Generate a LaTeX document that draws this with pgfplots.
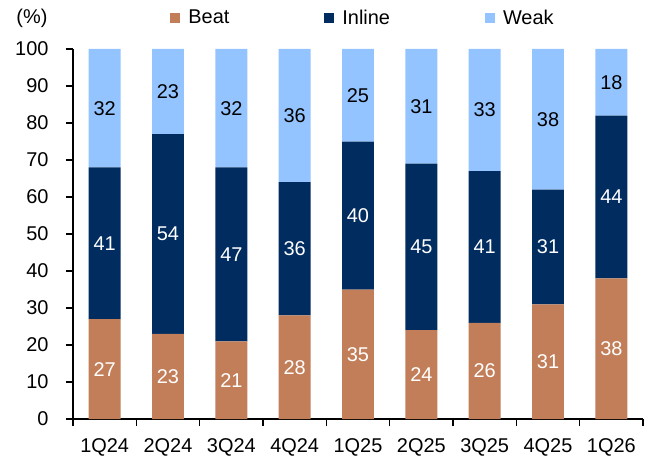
\documentclass[border=0pt]{standalone}
\usepackage{fontspec}
\setmainfont{Liberation Sans}
\usepackage{pgfplots}
\pgfplotsset{compat=1.18}
\usepackage{pgfplotstable}
\definecolor{beat}{RGB}{193,126,89}
\definecolor{inline}{RGB}{0,44,95}
\definecolor{weak}{RGB}{148,196,255}
\newcommand\F{\fontsize{20}{24}\selectfont}
\pgfplotstableread{
x beat inline weak
0 27 41 32
1 23 54 23
2 21 47 32
3 28 36 36
4 35 40 25
5 24 45 31
6 26 41 33
7 31 31 38
8 38 44 18
}\data
\begin{document}
\begin{tikzpicture}
\begin{axis}[
  scale only axis, width=570bp, height=370bp,
  ybar stacked, bar width=0.505,
  xmin=-0.5, xmax=8.5, ymin=0, ymax=100,
  axis lines=left, axis line style={-, line width=1.4bp, black},
  xtick={-0.5,0.5,...,8.5}, xticklabel=\empty,
  extra x ticks={0,1,...,8},
  extra x tick labels={1Q24,2Q24,3Q24,4Q24,1Q25,2Q25,3Q25,4Q25,1Q26},
  extra x tick style={major tick length=0pt},
  ytick={0,10,...,100},
  tick align=outside, major tick length=7bp,
  tick style={black, line width=1.4bp},
  /pgf/number format/assume math mode=true,
  ticklabel style={font=\F},
  xticklabel style={yshift=-16bp},
  yticklabel style={anchor=east, xshift=-14bp},
  legend style={draw=none, font=\F, at={(0.5,1)}, anchor=south, yshift=21bp, xshift=5bp,
    legend columns=-1, /tikz/every even column/.append style={column sep=93bp},
    inner sep=0pt},
  legend image code/.code={\fill[#1] (0bp,-5bp) rectangle (10bp,5bp); \path (16bp,0bp);},
  nodes near coords, point meta=explicit,
  every node near coord/.append style={font=\F, anchor=center},
]
\addplot[fill=beat, draw=none, nodes near coords style={text=white}] table[x=x, y=beat, meta=beat] {\data};
\addplot[fill=inline, draw=none, nodes near coords style={text=white}] table[x=x, y=inline, meta=inline] {\data};
\addplot[fill=weak, draw=none, nodes near coords style={text=black}] table[x=x, y=weak, meta=weak] {\data};
\legend{Beat,Inline,Weak}
\end{axis}
\node[anchor=base east, font=\F] at (current axis.north west) [xshift=-22bp, yshift=25bp] {(\%)};
\pgfresetboundingbox
\path[use as bounding box] ([xshift=-73bp,yshift=-40bp]current axis.south west) rectangle ([xshift=11bp,yshift=49bp]current axis.north east);
\end{tikzpicture}
\end{document}
